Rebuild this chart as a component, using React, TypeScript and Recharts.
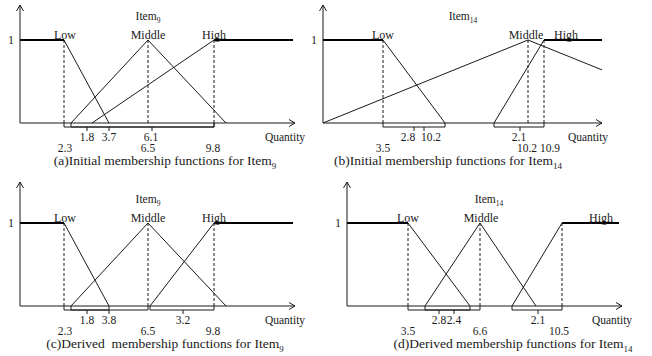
import { LineChart, Line, XAxis, YAxis, ReferenceLine, ReferenceDot } from 'recharts'

type Pt = { x: number; y: number }
type Tick = { pos: number; label: string }

const SERIF = 'Liberation Serif, Tinos, DejaVu Serif, serif'
const UNIT = 83 // px per membership degree
const INK = '#1a1a1a'

// positions are read along each quantity axis (px from the y axis)

// (a) initial, Item9
const aLow: Pt[] = [{ x: 0, y: 1 }, { x: 44, y: 1 }, { x: 89, y: 0 }]
const aMiddle: Pt[] = [{ x: 51, y: 0 }, { x: 128, y: 1 }, { x: 206, y: 0 }]
const aHigh: Pt[] = [{ x: 72, y: 0 }, { x: 194, y: 1 }, { x: 273, y: 1 }]
const aDashed = [44, 128, 194]
const aBrackets: [number, number][] = [[44, 194], [51, 194]]
const aMarks = [67, 89, 132]
const aRow1: Tick[] = [{ pos: 67, label: '1.8' }, { pos: 89, label: '3.7' }, { pos: 131, label: '6.1' }]
const aRow2: Tick[] = [{ pos: 45, label: '2.3' }, { pos: 128, label: '6.5' }, { pos: 193, label: '9.8' }]

// (b) initial, Item14
const bLow: Pt[] = [{ x: 0, y: 1 }, { x: 60, y: 1 }, { x: 122, y: 0 }]
const bMiddle: Pt[] = [{ x: 0, y: 0 }, { x: 205, y: 1 }, { x: 279, y: 0.64 }]
const bHigh: Pt[] = [{ x: 171, y: 0 }, { x: 221, y: 1 }, { x: 279, y: 1 }]
const bDashed = [60, 205, 221]
const bBrackets: [number, number][] = [[60, 122], [171, 221]]
const bMarks = [91, 101, 197]
const bRow1: Tick[] = [{ pos: 85, label: '2.8' }, { pos: 108, label: '10.2' }, { pos: 196, label: '2.1' }]
const bRow2: Tick[] = [{ pos: 60, label: '3.5' }, { pos: 204, label: '10.2' }, { pos: 227, label: '10.9' }]

// (c) derived, Item9
const cLow: Pt[] = [{ x: 0, y: 1 }, { x: 44, y: 1 }, { x: 89, y: 0 }]
const cMiddle: Pt[] = [{ x: 51, y: 0 }, { x: 128, y: 1 }, { x: 206, y: 0 }]
const cHigh: Pt[] = [{ x: 130, y: 0 }, { x: 194, y: 1 }, { x: 273, y: 1 }]
const cDashed = [44, 128, 194]
const cBrackets: [number, number][] = [[44, 128], [51, 89], [130, 194]]
const cMarks = [67, 89, 163]
const cRow1: Tick[] = [{ pos: 67, label: '1.8' }, { pos: 89, label: '3.8' }, { pos: 163, label: '3.2' }]
const cRow2: Tick[] = [{ pos: 45, label: '2.3' }, { pos: 128, label: '6.5' }, { pos: 193, label: '9.8' }]

// (d) derived, Item14
const dLow: Pt[] = [{ x: 0, y: 1 }, { x: 61, y: 1 }, { x: 123, y: 0 }]
const dMiddle: Pt[] = [{ x: 78, y: 0 }, { x: 133, y: 1 }, { x: 189, y: 0 }]
const dHigh: Pt[] = [{ x: 165, y: 0 }, { x: 215, y: 1 }, { x: 272, y: 1 }]
const dDashed = [61, 133, 215]
const dBrackets: [number, number][] = [[61, 133], [78, 123], [165, 215]]
const dMarks = [92, 107, 191]
const dRow1: Tick[] = [{ pos: 92, label: '2.8' }, { pos: 107, label: '2.4' }, { pos: 191, label: '2.1' }]
const dRow2: Tick[] = [{ pos: 61, label: '3.5' }, { pos: 133, label: '6.6' }, { pos: 212, label: '10.5' }]

const QUANTITY_POS = 265

interface PanelProps {
  axisX: number
  arrowTop: number
  axisY: number
  length: number
  low: Pt[]
  middle: Pt[]
  high: Pt[]
  dashed: number[]
  brackets: [number, number][]
  marks: number[]
  row1: Tick[]
  row2: Tick[]
  labelPos: [number, number, number]
  titlePos: number
  sub: string
}

const flatParts = (pts: Pt[]) => {
  const out: Pt[][] = []
  for (let i = 1; i < pts.length; i++) {
    if (pts[i].y === 1 && pts[i - 1].y === 1) out.push([pts[i - 1], pts[i]])
  }
  return out
}

const txt = (label: string, size = 11) => (p: any) => (
  <text x={p.cx} y={p.cy - 1} textAnchor="middle" fontSize={size} style={{ fontFamily: SERIF }} fill={INK}>
    {label}
  </text>
)

const Panel = (p: PanelProps) => {
  const yMax = (p.axisY - p.arrowTop) / UNIT
  const width = 20 + p.length + 40
  const height = p.axisY - p.arrowTop + 5 + 55
  const yb = -4 / UNIT
  const ticks = [
    ...p.row1.map((t) => ({ ...t, dy: 18 })),
    ...p.row2.map((t) => ({ ...t, dy: 29 })),
    { pos: QUANTITY_POS, label: 'Quantity', dy: 18 },
  ]
  const seg = (x1: number, y1: number, x2: number, y2: number, key: string, dash?: string) => (
    <ReferenceLine
      key={key}
      segment={[{ x: x1, y: y1 }, { x: x2, y: y2 }]}
      stroke={INK}
      strokeWidth={1}
      strokeDasharray={dash}
      ifOverflow="visible"
    />
  )
  const fns = [p.low, p.middle, p.high]
  const names = ['Low', 'Middle', 'High']

  return (
    <div style={{ position: 'absolute', left: p.axisX - 20, top: p.arrowTop - 5 }}>
      <LineChart width={width} height={height} margin={{ top: 5, right: 40, bottom: 0, left: 0 }}>
        <XAxis
          type="number"
          dataKey="x"
          domain={[0, p.length]}
          ticks={ticks.map((t) => t.pos)}
          interval={0}
          height={55}
          tickSize={0}
          tickMargin={0}
          axisLine={{ stroke: INK, strokeWidth: 1 }}
          tick={(tp: any) => {
            const t = ticks.find((k) => k.pos === tp.payload.value)
            if (!t) return <g />
            return (
              <text x={tp.x} y={tp.y + t.dy} textAnchor="middle" fontSize={11.5} style={{ fontFamily: SERIF }} fill={INK}>
                {t.label}
              </text>
            )
          }}
        />
        <YAxis
          type="number"
          dataKey="y"
          domain={[0, yMax]}
          ticks={[1]}
          width={20}
          tickSize={0}
          tickMargin={0}
          axisLine={{ stroke: INK, strokeWidth: 1 }}
          tick={(tp: any) => (
            <text x={tp.x - 9} y={tp.y + 4} textAnchor="middle" fontSize={12} style={{ fontFamily: SERIF }} fill={INK}>
              1
            </text>
          )}
        />
        {fns.map((f, i) => (
          <Line
            key={'f' + i}
            data={f}
            dataKey="y"
            type="linear"
            stroke={INK}
            strokeWidth={1}
            dot={false}
            isAnimationActive={false}
          />
        ))}
        {fns.flatMap((f, i) =>
          flatParts(f).map((s, j) => (
            <Line
              key={`flat${i}-${j}`}
              data={s}
              dataKey="y"
              type="linear"
              stroke="#000"
              strokeWidth={1.8}
              dot={false}
              isAnimationActive={false}
            />
          )),
        )}
        {p.dashed.map((x, i) => seg(x, 0, x, 1, 'd' + i, '3 2'))}
        {p.brackets.flatMap(([s, e], i) => [
          seg(s, 0, s, yb, `bs${i}`),
          seg(e, 0, e, yb, `be${i}`),
          seg(s, yb, e, yb, `bh${i}`),
        ])}
        {p.marks.map((m, i) => seg(m, yb, m, yb - 4 / UNIT, 'm' + i))}
        {/* arrow heads */}
        {seg(-3.5, yMax - 6 / UNIT, 0, yMax, 'ay1')}
        {seg(3.5, yMax - 6 / UNIT, 0, yMax, 'ay2')}
        {seg(p.length - 6, 3.5 / UNIT, p.length, 0, 'ax1')}
        {seg(p.length - 6, -3.5 / UNIT, p.length, 0, 'ax2')}
        {names.map((n, i) => (
          <ReferenceDot key={n} x={p.labelPos[i]} y={1} r={0} ifOverflow="visible" shape={txt(n, 12)} />
        ))}
        <ReferenceDot
          x={p.titlePos}
          y={1.24}
          r={0}
          ifOverflow="visible"
          shape={(d: any) => (
            <text x={d.cx} y={d.cy} textAnchor="middle" fontSize={11.5} style={{ fontFamily: SERIF }} fill={INK}>
              <tspan>Item</tspan>
              <tspan fontSize={7.5} dy={3}>
                {p.sub}
              </tspan>
            </text>
          )}
        />
      </LineChart>
    </div>
  )
}

const Caption = ({ cx, cy, text, sub }: { cx: number; cy: number; text: string; sub: string }) => (
  <div
    style={{
      position: 'absolute',
      left: cx - 160,
      top: cy - 8,
      width: 320,
      textAlign: 'center',
      fontFamily: SERIF,
      fontSize: 13.5,
      lineHeight: '16px',
      color: INK,
      whiteSpace: 'pre',
    }}
  >
    {text}
    <sub style={{ fontSize: 9, lineHeight: 0 }}>{sub}</sub>
  </div>
)

export default function App() {
  return (
    <div style={{ position: 'absolute', left: 0, top: 0, width: 652, height: 356, background: '#fff' }}>
      <Panel
        axisX={20}
        arrowTop={5}
        axisY={123}
        length={275}
        low={aLow}
        middle={aMiddle}
        high={aHigh}
        dashed={aDashed}
        brackets={aBrackets}
        marks={aMarks}
        row1={aRow1}
        row2={aRow2}
        labelPos={[45, 128, 194]}
        titlePos={128}
        sub="9"
      />
      <Panel
        axisX={323}
        arrowTop={5}
        axisY={123}
        length={279}
        low={bLow}
        middle={bMiddle}
        high={bHigh}
        dashed={bDashed}
        brackets={bBrackets}
        marks={bMarks}
        row1={bRow1}
        row2={bRow2}
        labelPos={[60, 203, 243]}
        titlePos={140}
        sub="14"
      />
      <Panel
        axisX={20}
        arrowTop={182}
        axisY={306}
        length={275}
        low={cLow}
        middle={cMiddle}
        high={cHigh}
        dashed={cDashed}
        brackets={cBrackets}
        marks={cMarks}
        row1={cRow1}
        row2={cRow2}
        labelPos={[45, 128, 194]}
        titlePos={128}
        sub="9"
      />
      <Panel
        axisX={347}
        arrowTop={182}
        axisY={306}
        length={275}
        low={dLow}
        middle={dMiddle}
        high={dHigh}
        dashed={dDashed}
        brackets={dBrackets}
        marks={dMarks}
        row1={dRow1}
        row2={dRow2}
        labelPos={[61, 134, 254]}
        titlePos={142}
        sub="14"
      />
      <Caption cx={165} cy={161} text="(a)Initial membership functions for Item" sub="9" />
      <Caption cx={448} cy={161} text="(b)Initial membership functions for Item" sub="14" />
      <Caption cx={165} cy={344} text="(c)Derived  membership functions for Item" sub="9" />
      <Caption cx={513} cy={344} text="(d)Derived membership functions for Item" sub="14" />
    </div>
  )
}
